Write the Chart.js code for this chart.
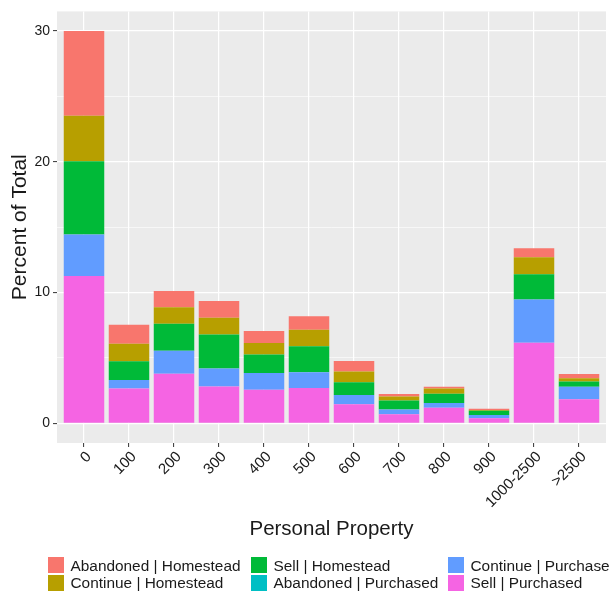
<!DOCTYPE html>
<html>
<head>
<meta charset="utf-8">
<script src="https://cdn.jsdelivr.net/npm/chart.js@4/dist/chart.umd.min.js"></script>
<style>
  html, body { margin: 0; padding: 0; background: #ffffff; overflow: hidden; }
  #wrap { position: relative; width: 616px; height: 601px; }
  #c { position: absolute; left: 0; top: 0; }
  .leg { position: absolute; font-family: "Liberation Sans", Arial, sans-serif; font-size: 15.4px; color: #1a1a1a; white-space: nowrap; line-height: 17px; }
  .sw { position: absolute; width: 16px; height: 16px; }
  .lt { position: absolute; left: 22.5px; top: -0.5px; }
</style>
</head>
<body>
<div id="wrap">
  <canvas id="c" width="616" height="601"></canvas>
  <div id="legend"></div>
</div>
<script>
// Categories (x axis)
const categories = ["0", "100", "200", "300", "400", "500", "600", "700", "800", "900", "1000-2500", ">2500"];

// Series values (percent of total), one array per series
const abandonedHomestead = [6.48, 1.47, 1.26, 1.28, 0.92, 1.05, 0.80, 0.20, 0.13, 0.10, 0.70, 0.32];
const continueHomestead  = [3.47, 1.33, 1.25, 1.27, 0.88, 1.25, 0.82, 0.30, 0.40, 0.05, 1.30, 0.25];
const sellHomestead      = [5.60, 1.43, 2.07, 2.60, 1.42, 2.00, 0.98, 0.68, 0.72, 0.32, 1.93, 0.40];
const abandonedPurchased = [0, 0, 0, 0, 0, 0, 0, 0, 0, 0, 0, 0];
const continuePurchased  = [3.18, 0.65, 1.75, 1.38, 1.28, 1.20, 0.70, 0.37, 0.35, 0.25, 3.30, 0.95];
const sellPurchased      = [11.27, 2.67, 3.80, 2.82, 2.57, 2.70, 1.47, 0.70, 1.20, 0.40, 6.17, 1.85];

// Legend order (top of stack first)
const seriesNames = ["Abandoned | Homestead", "Continue | Homestead", "Sell | Homestead", "Abandoned | Purchased", "Continue | Purchase", "Sell | Purchased"];
const seriesValues = [abandonedHomestead, continueHomestead, sellHomestead, abandonedPurchased, continuePurchased, sellPurchased];
const seriesColors = ["#F8766D", "#B79F00", "#00BA38", "#00BFC4", "#619CFF", "#F564E3"];

// Y tick labels
const yTicks = [0, 5, 10, 15, 20, 25, 30];
const yMajor = [0, 10, 20, 30];

// Build datasets: Chart.js stacks first dataset at bottom, so reverse legend order
const datasets = [];
for (let s = seriesNames.length - 1; s >= 0; s--) {
  datasets.push({
    label: seriesNames[s],
    data: seriesValues[s].map((v, i) => ({ x: i, y: v })),
    backgroundColor: seriesColors[s],
    borderWidth: 0,
    barPercentage: 0.9,
    categoryPercentage: 1.0
  });
}

const panelBg = {
  id: 'panelBg',
  beforeDraw(chart) {
    const { ctx, chartArea: a } = chart;
    ctx.save();
    ctx.fillStyle = '#EBEBEB';
    ctx.fillRect(a.left, a.top, a.right - a.left, a.bottom - a.top);
    ctx.restore();
  }
};

const FONT = "'Liberation Sans', Arial, sans-serif";

new Chart(document.getElementById('c'), {
  type: 'bar',
  data: { datasets },
  plugins: [panelBg],
  options: {
    responsive: false,
    animation: false,
    devicePixelRatio: 1,
    layout: { padding: { left: 0, right: 10, top: 3, bottom: 56 } },
    plugins: { legend: { display: false }, tooltip: { enabled: false } },
    scales: {
      x: {
        type: 'linear',
        stacked: true,
        offset: false,
        min: -0.6,
        max: categories.length - 1 + 0.6,
        afterBuildTicks(scale) { scale.ticks = categories.map((c, i) => ({ value: i })); },
        afterFit(scale) { scale.height = 102; },
        ticks: {
          autoSkip: false,
          minRotation: 45,
          maxRotation: 45,
          padding: 1,
          labelOffset: 5,
          color: '#1a1a1a',
          font: { family: FONT, size: 15 },
          callback: (v) => categories[v]
        },
        grid: {
          offset: false,
          color: '#FFFFFF',
          lineWidth: 1.2,
          drawTicks: true,
          tickLength: 4,
          tickColor: '#333333',
          tickWidth: 1
        },
        border: { display: false },
        title: {
          display: true,
          text: 'Personal Property',
          color: '#1a1a1a',
          font: { family: FONT, size: 20.5 },
          padding: { top: 0, bottom: 3 }
        }
      },
      y: {
        stacked: true,
        min: -1.5,
        max: 31.5,
        afterBuildTicks(scale) { scale.ticks = yTicks.map(v => ({ value: v })); },
        afterFit(scale) { scale.width = 57; },
        ticks: {
          padding: 3,
          color: '#1a1a1a',
          font: { family: FONT, size: 14 },
          callback: (v) => (yMajor.includes(v) ? String(v) : '')
        },
        grid: {
          color: '#FFFFFF',
          lineWidth: (ctx) => (yMajor.includes(ctx.tick && ctx.tick.value) ? 1.2 : 0.6),
          drawTicks: true,
          tickLength: 4,
          tickColor: (ctx) => (yMajor.includes(ctx.tick && ctx.tick.value) ? '#333333' : 'rgba(0,0,0,0)'),
          tickWidth: 1
        },
        border: { display: false },
        title: {
          display: true,
          text: 'Percent of Total',
          color: '#1a1a1a',
          font: { family: FONT, size: 21 },
          padding: { top: 8, bottom: 0 }
        }
      }
    }
  }
});

// HTML legend: 3 columns, filled column-wise (2 rows)
const colLeft = [48, 251, 448];
const rowTop = [557, 574.5];
const legend = document.getElementById('legend');
seriesNames.forEach((name, i) => {
  const col = Math.floor(i / 2), row = i % 2;
  const item = document.createElement('div');
  item.className = 'leg';
  item.style.left = colLeft[col] + 'px';
  item.style.top = rowTop[row] + 'px';
  const sw = document.createElement('span');
  sw.className = 'sw';
  sw.style.background = seriesColors[i];
  const t = document.createElement('span');
  t.className = 'lt';
  t.textContent = name;
  item.appendChild(sw);
  item.appendChild(t);
  legend.appendChild(item);
});
</script>
</body>
</html>
